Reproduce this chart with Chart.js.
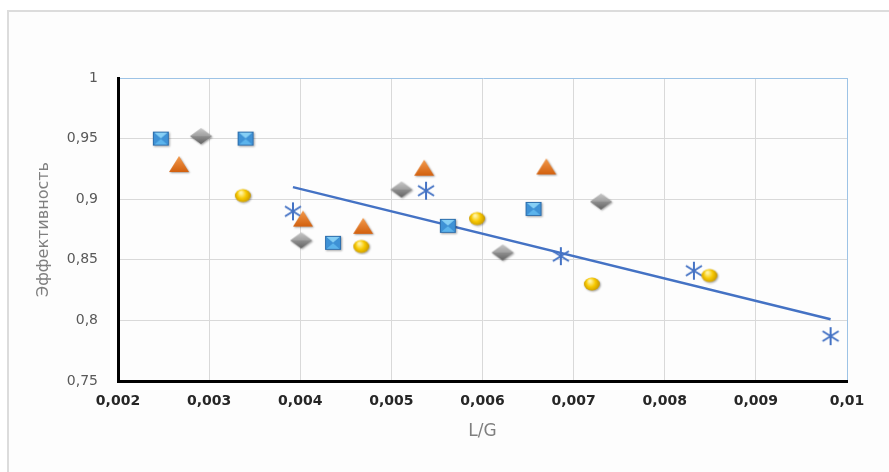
<!DOCTYPE html>
<html>
<head>
<meta charset="utf-8">
<script src="https://cdn.jsdelivr.net/npm/chart.js@4/dist/chart.umd.min.js"></script>
<style>
  html, body { margin: 0; background: #fff; overflow: hidden; }
  #wrap { position: relative; width: 889px; height: 472px; overflow: hidden; }
  #frame { position: absolute; left: 7px; top: 10px; width: 1000px; height: 600px;
           border-left: 2px solid #dcdcdc; border-top: 2px solid #dcdcdc; background: #fdfdfd; }
  canvas { position: absolute; left: 0; top: 0; }
</style>
</head>
<body>
<div id="wrap">
  <div id="frame"></div>
  <canvas id="chart" width="889" height="472"></canvas>
</div>
<script>
// values
const squaresX = [0.00247, 0.0034, 0.00436, 0.00562, 0.00656];
const squaresY = [0.95, 0.95, 0.864, 0.878, 0.892];
const diamondsX = [0.00291, 0.00401, 0.00511, 0.00622, 0.0073];
const diamondsY = [0.952, 0.866, 0.908, 0.856, 0.898];
const trianglesX = [0.00267, 0.00403, 0.00469, 0.00536, 0.0067];
const trianglesY = [0.929, 0.884, 0.878, 0.926, 0.927];
const circlesX = [0.00337, 0.00467, 0.00594, 0.0072, 0.00849];
const circlesY = [0.903, 0.861, 0.884, 0.830, 0.837];
const starsX = [0.00392, 0.00538, 0.00686, 0.00832, 0.00982];
const starsY = [0.890, 0.907, 0.853, 0.841, 0.787];

const xTicks = ['0,002', '0,003', '0,004', '0,005', '0,006', '0,007', '0,008', '0,009', '0,01'];
const yTicks = ['0,75', '0,8', '0,85', '0,9', '0,95', '1'];

function pts(xs, ys) {
  return xs.map((x, i) => ({ x: x, y: ys[i] }));
}

// linear trend of the asterisk series
function trend(xs, ys) {
  const n = xs.length;
  const mx = xs.reduce((a, b) => a + b, 0) / n;
  const my = ys.reduce((a, b) => a + b, 0) / n;
  let sxy = 0, sxx = 0;
  for (let i = 0; i < n; i++) {
    sxy += (xs[i] - mx) * (ys[i] - my);
    sxx += (xs[i] - mx) * (xs[i] - mx);
  }
  const k = sxy / sxx;
  const b = my - k * mx;
  const x0 = Math.min(...xs), x1 = Math.max(...xs);
  return [{ x: x0, y: k * x0 + b }, { x: x1, y: k * x1 + b }];
}

function mk(w, h) {
  const c = document.createElement('canvas');
  c.width = w; c.height = h;
  return c;
}
function shadowOn(g) {
  g.shadowColor = 'rgba(0,0,0,0.35)';
  g.shadowBlur = 2;
  g.shadowOffsetY = 1;
  g.shadowOffsetX = 1;
}

function squareMarker() {
  const c = mk(24, 22), g = c.getContext('2d');
  const x0 = 4, y0 = 4, x1 = 20, y1 = 18, cx = 12, cy = 11;
  shadowOn(g);
  g.fillStyle = '#3585cc';
  g.fillRect(x0, y0, x1 - x0, y1 - y0);
  g.shadowColor = 'transparent';
  const tri = (a, b, col) => {
    g.beginPath(); g.moveTo(a[0], a[1]); g.lineTo(b[0], b[1]); g.lineTo(cx, cy); g.closePath();
    g.fillStyle = col; g.fill();
  };
  tri([x0, y0], [x1, y0], '#86cff5');
  tri([x0, y1], [x1, y1], '#5cb4ec');
  tri([x0, y0], [x0, y1], '#3f92d6');
  tri([x1, y0], [x1, y1], '#3f92d6');
  g.strokeStyle = '#2d6eac'; g.lineWidth = 1;
  g.strokeRect(x0 + 0.5, y0 + 0.5, x1 - x0 - 1, y1 - y0 - 1);
  return c;
}

function diamondMarker() {
  const c = mk(28, 22), g = c.getContext('2d');
  shadowOn(g);
  g.beginPath(); g.moveTo(3, 11); g.lineTo(14, 3); g.lineTo(25, 11); g.lineTo(14, 19); g.closePath();
  const gr = g.createLinearGradient(0, 3, 0, 19);
  gr.addColorStop(0, '#bdbdbd'); gr.addColorStop(0.5, '#8f8f8f'); gr.addColorStop(1, '#626262');
  g.fillStyle = gr; g.fill();
  g.shadowColor = 'transparent';
  g.beginPath(); g.moveTo(3, 11); g.lineTo(14, 3); g.lineTo(25, 11); g.closePath();
  g.fillStyle = 'rgba(255,255,255,0.15)'; g.fill();
  return c;
}

function triangleMarker() {
  const c = mk(26, 22), g = c.getContext('2d');
  shadowOn(g);
  g.beginPath(); g.moveTo(13, 3); g.lineTo(23, 19); g.lineTo(3, 19); g.closePath();
  const gr = g.createLinearGradient(0, 3, 0, 19);
  gr.addColorStop(0, '#f39a4c'); gr.addColorStop(1, '#d2600e');
  g.fillStyle = gr; g.fill();
  return c;
}

function circleMarker() {
  const c = mk(22, 18), g = c.getContext('2d');
  shadowOn(g);
  g.beginPath(); g.ellipse(11, 9, 8, 6.5, 0, 0, Math.PI * 2);
  const gr = g.createRadialGradient(9, 6, 1, 11, 9, 9);
  gr.addColorStop(0, '#fff3a0'); gr.addColorStop(0.45, '#f7c800'); gr.addColorStop(1, '#b98a00');
  g.fillStyle = gr; g.fill();
  return c;
}

function starMarker() {
  const c = mk(22, 22), g = c.getContext('2d');
  g.strokeStyle = '#4472c4'; g.lineWidth = 2; g.lineCap = 'butt';
  g.beginPath();
  g.moveTo(11, 2); g.lineTo(11, 20);
  g.moveTo(3, 6); g.lineTo(19, 16);
  g.moveTo(3, 16); g.lineTo(19, 6);
  g.stroke();
  return c;
}

const gridCol = '#d9d9d9';
const edgeCol = '#9dc3e6';

const ctx = document.getElementById('chart').getContext('2d');
const chart = new Chart(ctx, {
  type: 'scatter',
  data: {
    datasets: [
      { data: trend(starsX, starsY), showLine: true, borderColor: '#4472c4', borderWidth: 2.5,
        pointRadius: 0, fill: false, order: 1 },
      { data: pts(squaresX, squaresY), pointStyle: squareMarker(), order: 0 },
      { data: pts(diamondsX, diamondsY), pointStyle: diamondMarker(), order: 0 },
      { data: pts(trianglesX, trianglesY), pointStyle: triangleMarker(), order: 0 },
      { data: pts(circlesX, circlesY), pointStyle: circleMarker(), order: 0 },
      { data: pts(starsX, starsY), pointStyle: starMarker(), order: 0 }
    ]
  },
  options: {
    responsive: false,
    animation: false,
    devicePixelRatio: 1,
    events: [],
    layout: { padding: { top: 78, right: 42, left: 0, bottom: 0 } },
    plugins: { legend: { display: false }, tooltip: { enabled: false } },
    scales: {
      x: {
        type: 'linear', min: 0.002, max: 0.01,
        afterFit: s => { s.height = 91; },
        border: { color: '#000', width: 3 },
        grid: { drawTicks: false, color: c => (c.tick && c.tick.value >= 0.00999 ? edgeCol : gridCol) },
        ticks: { stepSize: 0.001, padding: 12, color: '#262626',
                 font: { family: 'DejaVu Sans', size: 14, weight: 'bold' },
                 callback: (v, i) => xTicks[i] },
        title: { display: true, text: 'L/G', color: '#7f7f7f',
                 font: { family: 'DejaVu Sans', size: 17 }, padding: { top: 30, bottom: 30 } }
      },
      y: {
        type: 'linear', min: 0.75, max: 1,
        afterFit: s => { s.width = 118; },
        border: { color: '#000', width: 3 },
        grid: { drawTicks: false, color: c => (c.tick && c.tick.value >= 0.9999 ? edgeCol : gridCol) },
        ticks: { stepSize: 0.05, padding: 20, color: '#595959',
                 font: { family: 'DejaVu Sans', size: 14 },
                 callback: (v, i) => yTicks[i] },
        title: { display: true, text: 'Эффективность', color: '#7f7f7f',
                 font: { family: 'DejaVu Sans', size: 16 }, padding: { top: 34, bottom: 34 } }
      }
    }
  }
});
</script>
</body>
</html>
